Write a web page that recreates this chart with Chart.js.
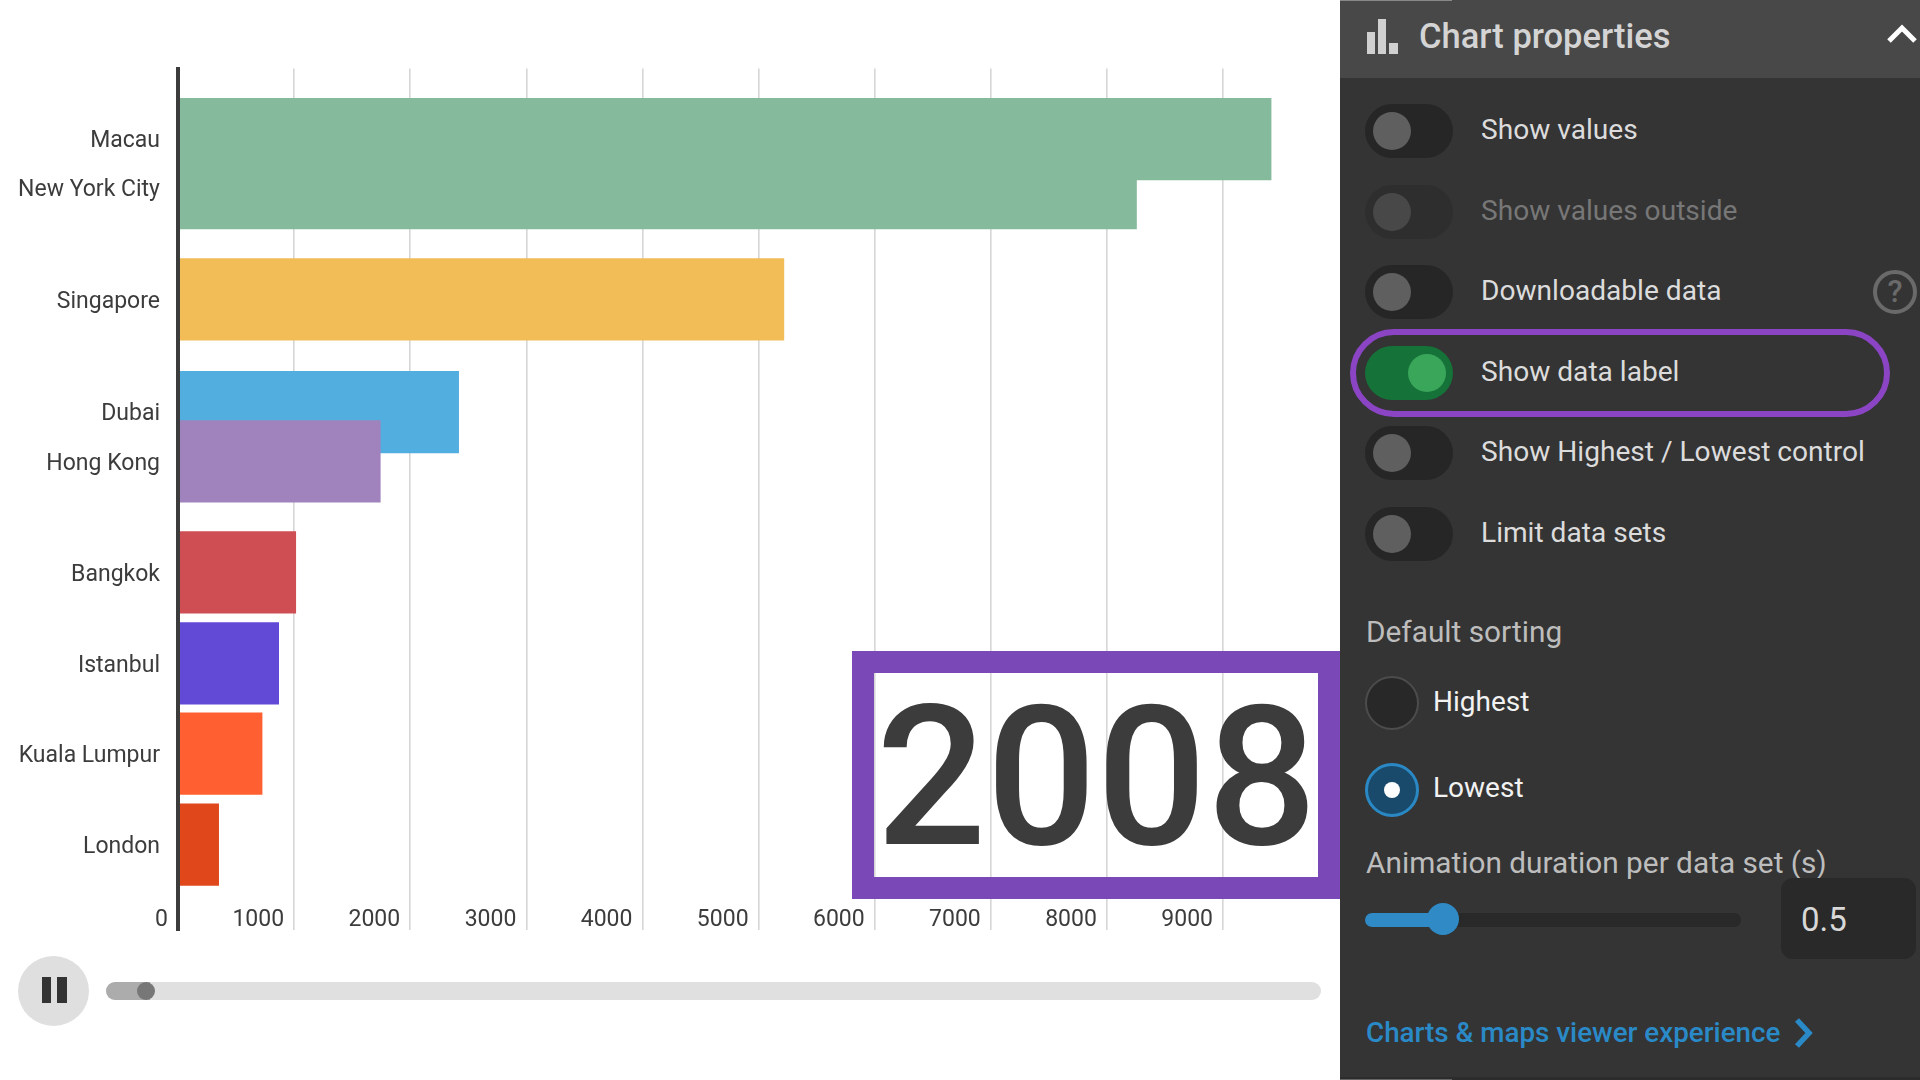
<!DOCTYPE html>
<html>
<head>
<meta charset="utf-8">
<title>Chart properties</title>
<script src="https://cdn.jsdelivr.net/npm/chart.js@4"></script>
<style>
  html, body { margin: 0; padding: 0; background: #fff; }
  body { width: 1920px; height: 1080px; position: relative; overflow: hidden; font-family: Roboto, sans-serif; }
  #chartBox { position: absolute; left: 0; top: 0; width: 1339px; height: 962px; }
  .abs { position: absolute; box-sizing: border-box; }

  /* year overlay */
  #yearFrame { left: 852px; top: 651px; width: 488px; height: 248px; border: 22px solid #7b48b8; }
  #yearText { left: 876px; top: 660px; font-size: 194px; font-weight: 500; line-height: 236px; color: #3c3c3c; letter-spacing: 0; }

  /* player */
  #pauseBtn { left: 18px; top: 956px; width: 71px; height: 70px; border-radius: 50%; background: #dfdfdf; }
  .pauseBar { width: 9.5px; height: 26px; top: 977px; background: #333; }
  #timeline { left: 106px; top: 982px; width: 1215px; height: 18px; border-radius: 9px; background: #e0e0e0; }
  #timelineFill { left: 106px; top: 982px; width: 44px; height: 18px; border-radius: 9px 0 0 9px; background: #acacac; }
  #timelineKnob { left: 137px; top: 982px; width: 18px; height: 18px; border-radius: 50%; background: #777; }

  /* side panel */
  #panel { left: 1340px; top: 0; width: 580px; height: 1080px; background: #343434; }
  #panelHead { left: 1340px; top: 0; width: 580px; height: 78px; background: #484848; }
  #topEdge { left: 1340px; top: 0; width: 112px; height: 1px; background: #888; }
  #bottomEdge { left: 1340px; top: 1077px; width: 580px; height: 3px; background: #2c2c2c; }
  #bottomMark { left: 1340px; top: 1079px; width: 112px; height: 1px; background: #666; }
  .iconBar { background: #d0d0d0; }
  #panelTitle { left: 1419px; top: 14px; font-size: 34.5px; font-weight: 500; line-height: 44px; color: #d4d4d4; white-space: nowrap; }
  .track { left: 1365px; width: 88px; height: 54px; border-radius: 27px; background: #262626; }
  .knob { left: 1373px; width: 38px; height: 38px; border-radius: 50%; background: #5f5f5f; }
  .rowLabel { left: 1481px; font-size: 28.1px; line-height: 36px; color: #dcdcdc; white-space: nowrap; }
  .dim.track { background: #2e2e2e; }
  .dim.knob { background: #484848; }
  .dim.rowLabel { color: #777; }
  .on.track { background: #157238; }
  .on.knob { left: 1408px; background: #3aa65a; }
  #oval { left: 1350px; top: 329px; width: 540px; height: 88px; border-radius: 44px; border: 6px solid #8b45c4; }
  #help { left: 1873px; top: 270px; width: 44px; height: 44px; border-radius: 50%; border: 4px solid #6a6a6a; color: #6a6a6a; font-size: 31px; font-weight: 500; line-height: 36px; text-align: center; }
  .heading { left: 1366px; font-size: 29.8px; line-height: 36px; color: #bdbdbd; white-space: nowrap; }
  .radio { left: 1365px; width: 54px; height: 54px; border-radius: 50%; background: #282828; border: 2px solid #4c4c4c; }
  .radio.sel { background: #1a4a6b; border: 3px solid #2a89c5; }
  #radioDot { left: 1384px; top: 782px; width: 16px; height: 16px; border-radius: 50%; background: #fff; }
  .radioLabel { left: 1433px; font-size: 28px; line-height: 36px; color: #f2f2f2; white-space: nowrap; }
  #sliderTrack { left: 1365px; top: 913px; width: 376px; height: 14px; border-radius: 7px; background: #292929; }
  #sliderFill { left: 1365px; top: 913px; width: 78px; height: 14px; border-radius: 7px 0 0 7px; background: #2f8ac6; }
  #sliderKnob { left: 1427px; top: 903px; width: 32px; height: 32px; border-radius: 50%; background: #2f8ac6; }
  #valueBox { left: 1781px; top: 878px; width: 135px; height: 81px; border-radius: 12px; background: #292929; }
  #valueText { left: 1801px; top: 898px; font-size: 33px; line-height: 44px; color: #d8d8d8; }
  #link { left: 1366px; top: 1014px; font-size: 27.8px; line-height: 38px; color: #2a8ac8; font-weight: 500; white-space: nowrap; }
  svg.abs { overflow: visible; }
</style>
</head>
<body>
<div id="chartBox"><canvas id="raceChart" width="1339" height="962"></canvas></div>

<div class="abs" id="yearFrame"></div>
<div class="abs" id="yearText">2008</div>

<div class="abs" id="pauseBtn"></div>
<div class="abs pauseBar" style="left:41.5px"></div>
<div class="abs pauseBar" style="left:57px"></div>
<div class="abs" id="timeline"></div>
<div class="abs" id="timelineFill"></div>
<div class="abs" id="timelineKnob"></div>

<div class="abs" id="panel"></div>
<div class="abs" id="panelHead"></div>
<div class="abs" id="topEdge"></div>
<div class="abs" id="bottomEdge"></div>
<div class="abs" id="bottomMark"></div>
<div class="abs iconBar" style="left:1367px;top:32px;width:8px;height:22px"></div>
<div class="abs iconBar" style="left:1378px;top:19px;width:8px;height:35px"></div>
<div class="abs iconBar" style="left:1389px;top:43px;width:9px;height:11px"></div>
<div class="abs" id="panelTitle">Chart properties</div>
<svg class="abs" style="left:1886px;top:24px" width="32" height="20"><polyline points="3,17 16,4 29,17" fill="none" stroke="#fff" stroke-width="5"/></svg>

<div id="rows"></div>
<div class="abs" id="oval"></div>
<div class="abs" id="help">?</div>

<div class="abs heading" style="top:614px">Default sorting</div>
<div class="abs radio" style="top:676px"></div>
<div class="abs radioLabel" style="top:684px">Highest</div>
<div class="abs radio sel" style="top:763px"></div>
<div class="abs" id="radioDot"></div>
<div class="abs radioLabel" style="top:770px">Lowest</div>

<div class="abs heading" style="top:845px">Animation duration per data set (s)</div>
<div class="abs" id="sliderTrack"></div>
<div class="abs" id="sliderFill"></div>
<div class="abs" id="sliderKnob"></div>
<div class="abs" id="valueBox"></div>
<div class="abs" id="valueText">0.5</div>

<div class="abs" id="link">Charts &amp; maps viewer experience</div>
<svg class="abs" style="left:1793px;top:1017px" width="22" height="32"><polyline points="4,3 16,16 4,29" fill="none" stroke="#2a8ac8" stroke-width="5.5"/></svg>

<script>
/* ================== Data ================== */
const cities = ["Macau", "New York City", "Singapore", "Dubai", "Hong Kong", "Bangkok", "Istanbul", "Kuala Lumpur", "London"];
const values = [9414, 8255, 5218, 2417, 1742, 1014, 867, 724, 350];
// the frame is caught mid-animation, so the ranks are fractional
const ranks = [0, 0.54, 1.76, 3, 3.54, 4.76, 5.76, 6.75, 7.75];
const barColors = ["#85bb9c", "#85bb9c", "#f2bd57", "#53aee0", "#a083bd", "#cf4e53", "#6249d6", "#ff5f31", "#e0481c"];
const xTicks = [0, 1000, 2000, 3000, 4000, 5000, 6000, 7000, 8000, 9000];
const toggleLabels = ["Show values", "Show values outside", "Downloadable data", "Show data label", "Show Highest / Lowest control", "Limit data sets"];

/* ================== Side panel rows ================== */
const rows = document.getElementById("rows");
toggleLabels.forEach((label, i) => {
  const mid = 131.4 + i * 80.5;
  const state = i === 1 ? " dim" : i === 3 ? " on" : "";
  rows.innerHTML += `
    <div class="abs track${state}" style="top:${mid - 27}px"></div>
    <div class="abs knob${state}" style="top:${mid - 19}px"></div>
    <div class="abs rowLabel${state}" style="top:${mid - 19}px">${label}</div>`;
});

/* ================== Chart ================== */
const textColor = "#3c3c3c";
const ctx = document.getElementById("raceChart");
new Chart(ctx, {
  type: "bar",
  data: {
    datasets: [
      {
        data: cities.map((c, i) => ({ x: values[i], y: ranks[i] })),
        backgroundColor: barColors,
        barThickness: 81.6,
        borderWidth: 0,
      },
    ],
  },
  options: {
    indexAxis: "y",
    responsive: false,
    animation: false,
    layout: { padding: { top: 68.5, right: 0, bottom: 0, left: 0 } },
    plugins: { legend: { display: false }, tooltip: { enabled: false }, title: { display: false } },
    scales: {
      x: {
        type: "linear",
        min: 0,
        max: 9999,
        grid: { color: "#d6d6d6", lineWidth: 1.6, drawTicks: false },
        border: { display: false },
        afterFit: (scale) => { scale.height = 0; },
        afterBuildTicks: (scale) => { scale.ticks = xTicks.map((v) => ({ value: v })); },
        ticks: {
          mirror: true,
          align: "end",
          labelOffset: -10,
          padding: -4,
          maxRotation: 0,
          autoSkip: false,
          color: textColor,
          font: { family: "Roboto", size: 23 },
          callback: (v) => String(v),
        },
      },
      y: {
        type: "linear",
        reverse: true,
        offset: false,
        min: -0.775,
        max: 8.69,
        grid: { display: false, drawTicks: false, offset: false },
        border: { display: true, color: "#3c3c3c", width: 4, z: 1 },
        afterFit: (scale) => { scale.width = 178; },
        afterBuildTicks: (scale) => { scale.ticks = ranks.map((r) => ({ value: r })); },
        ticks: {
          padding: 18,
          labelOffset: 2.5,
          autoSkip: false,
          color: textColor,
          font: { family: "Roboto", size: 23 },
          callback: (v, i) => cities[i],
        },
      },
    },
  },
});
</script>
</body>
</html>
